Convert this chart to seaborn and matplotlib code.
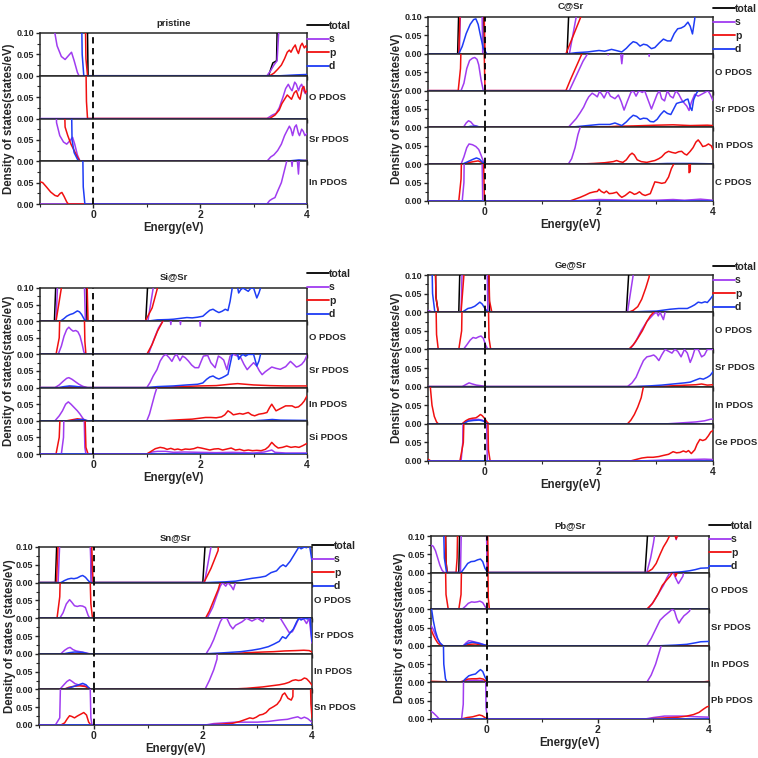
import matplotlib
matplotlib.use("Agg")
import matplotlib.pyplot as plt
from matplotlib.lines import Line2D
import seaborn as sns

# ---- data: (energy eV, DOS states/eV); 0.3 / 0.12 = off scale ----

pristine_total = dict(
    total=[(-1, 0.3), (-0.13, 0.3), (-0.1, 0), (3.28, 0), (3.36, 0.03), (3.43, 0.035), (3.47, 0.3), (4, 0.3)],
    s=[(-1, 0.3), (-0.75, 0.12), (-0.68, 0.07), (-0.6, 0.045), (-0.53, 0.038), (-0.46, 0.048), (-0.41, 0.055),
       (-0.36, 0.035), (-0.3, 0.008), (-0.27, 0), (3.25, 0), (3.32, 0.012), (3.38, 0.025), (3.44, 0.035),
       (3.47, 0.1), (3.5, 0.3), (4, 0.3)],
    p=[(-1, 0.3), (-0.17, 0.3), (-0.14, 0.04), (-0.11, 0), (3.3, 0), (3.38, 0.006), (3.45, 0.015), (3.52, 0.025),
       (3.58, 0.04), (3.63, 0.055), (3.67, 0.06), (3.7, 0.055), (3.74, 0.065), (3.78, 0.072), (3.81, 0.06),
       (3.84, 0.052), (3.88, 0.07), (3.91, 0.076), (3.95, 0.065), (3.98, 0.07), (4, 0.066)],
    d=[(-1, 0.3), (-0.24, 0.3), (-0.21, 0.05), (-0.18, 0), (3.5, 0), (3.8, 0.002), (4, 0.003)],
)
pristine_O = dict(
    s=[(-1, 0), (3.25, 0), (3.35, 0.008), (3.42, 0.012), (3.48, 0.025), (3.55, 0.05), (3.6, 0.07), (3.65, 0.08),
       (3.69, 0.07), (3.72, 0.065), (3.77, 0.085), (3.8, 0.08), (3.84, 0.065), (3.87, 0.075), (3.9, 0.08),
       (3.94, 0.065), (3.97, 0.058), (4, 0.065)],
    p=[(-1, 0.3), (-0.16, 0.3), (-0.13, 0.04), (-0.11, 0), (3.3, 0), (3.4, 0.008), (3.48, 0.02), (3.53, 0.035),
       (3.58, 0.045), (3.63, 0.055), (3.67, 0.05), (3.71, 0.045), (3.76, 0.06), (3.8, 0.065), (3.84, 0.05),
       (3.87, 0.045), (3.91, 0.07), (3.94, 0.075), (3.97, 0.06), (4, 0.065)],
    d=[(-1, 0), (4, 0)],
)
pristine_Sr = dict(
    s=[(-1, 0.3), (-0.74, 0.3), (-0.69, 0.09), (-0.63, 0.06), (-0.56, 0.045), (-0.5, 0.04), (-0.44, 0.048),
       (-0.39, 0.056), (-0.35, 0.04), (-0.3, 0.015), (-0.25, 0), (3.25, 0), (3.32, 0.01), (3.38, 0.015),
       (3.45, 0.025), (3.52, 0.04), (3.58, 0.06), (3.62, 0.07), (3.67, 0.082), (3.7, 0.075), (3.73, 0.06),
       (3.77, 0.08), (3.8, 0.085), (3.84, 0.065), (3.86, 0.06), (3.9, 0.075), (3.93, 0.07), (3.96, 0.06),
       (4, 0.065)],
    p=[(-1, 0.3), (-0.58, 0.3), (-0.53, 0.08), (-0.48, 0.06), (-0.42, 0.04), (-0.36, 0.025), (-0.3, 0.01),
       (-0.25, 0), (3.5, 0), (4, 0.002)],
    d=[(-1, 0.3), (-0.43, 0.3), (-0.4, 0.05), (-0.36, 0.02), (-0.3, 0.005), (-0.27, 0), (3.6, 0), (3.85, 0.003),
       (3.95, 0.002), (4, 0.002)],
)
pristine_In = dict(
    s=[(-1, 0), (3.25, 0), (3.3, 0.008), (3.35, 0.012), (3.4, 0.015), (3.45, 0.03), (3.52, 0.05), (3.58, 0.08),
       (3.62, 0.1), (3.66, 0.13), (3.7, 0.11), (3.72, 0.088), (3.75, 0.13), (3.8, 0.13), (3.84, 0.07),
       (3.87, 0.13), (4, 0.13)],
    p=[(-1, 0.052), (-0.95, 0.05), (-0.88, 0.04), (-0.8, 0.028), (-0.72, 0.02), (-0.67, 0.018), (-0.62, 0.025),
       (-0.59, 0.027), (-0.55, 0.018), (-0.5, 0.005), (-0.47, 0), (4, 0)],
    d=[(-1, 0.3), (-0.22, 0.3), (-0.19, 0.04), (-0.16, 0), (4, 0)],
)

c_total = dict(
    total=[(-1, 0), (-0.48, 0), (-0.43, 0.3), (-0.04, 0.3), (-0.01, 0), (1.44, 0), (1.52, 0.3), (4, 0.3)],
    s=[(-1, 0), (-0.45, 0), (-0.4, 0.3), (-0.07, 0.3), (-0.04, 0), (1.48, 0), (1.6, 0.1), (1.65, 0.3), (4, 0.3)],
    p=[(-1, 0), (-0.46, 0), (-0.4, 0.3), (-0.04, 0.3), (0, 0), (1.42, 0), (1.55, 0.05), (1.68, 0.1),
       (1.72, 0.3), (4, 0.3)],
    d=[(-1, 0), (-0.46, 0), (-0.4, 0.02), (-0.33, 0.055), (-0.26, 0.08), (-0.2, 0.093), (-0.16, 0.095),
       (-0.12, 0.08), (-0.08, 0.05), (-0.03, 0.015), (0.03, 0), (1.45, 0), (1.6, 0.003), (1.8, 0.005),
       (2.0, 0.009), (2.1, 0.007), (2.22, 0.012), (2.3, 0.009), (2.4, 0.005), (2.48, 0.015), (2.54, 0.025),
       (2.6, 0.033), (2.66, 0.03), (2.72, 0.021), (2.78, 0.026), (2.84, 0.024), (2.92, 0.014), (2.98, 0.017),
       (3.06, 0.03), (3.13, 0.04), (3.2, 0.035), (3.26, 0.035), (3.32, 0.055), (3.38, 0.068), (3.44, 0.07),
       (3.5, 0.075), (3.56, 0.086), (3.6, 0.075), (3.64, 0.054), (3.68, 0.095), (3.71, 0.3), (4, 0.3)],
)
c_O = dict(
    s=[(-1, 0), (-0.42, 0), (-0.37, 0.02), (-0.32, 0.06), (-0.27, 0.082), (-0.22, 0.088), (-0.18, 0.09),
       (-0.14, 0.085), (-0.11, 0.07), (-0.07, 0.03), (-0.03, 0), (1.48, 0), (1.6, 0.04), (1.72, 0.08),
       (1.8, 0.1), (1.85, 0.13), (2.12, 0.13), (2.16, 0.097), (2.2, 0.13), (2.36, 0.13), (2.4, 0.073),
       (2.44, 0.13), (2.85, 0.13), (2.88, 0.093), (2.91, 0.13), (4, 0.13)],
    p=[(-1, 0), (-0.47, 0), (-0.43, 0.06), (-0.39, 0.3), (-0.04, 0.3), (0, 0), (1.42, 0), (1.5, 0.03),
       (1.6, 0.065), (1.7, 0.1), (1.75, 0.3), (4, 0.3)],
    d=[(-1, 0), (4, 0)],
)
c_Sr = dict(
    s=[(-1, 0), (-0.38, 0), (-0.33, 0.012), (-0.29, 0.018), (-0.25, 0.015), (-0.2, 0.006), (-0.12, 0.002),
       (-0.05, 0), (1.46, 0), (1.53, 0.012), (1.6, 0.024), (1.67, 0.04), (1.73, 0.055), (1.78, 0.072),
       (1.82, 0.083), (1.88, 0.093), (1.93, 0.088), (1.97, 0.083), (2.01, 0.098), (2.05, 0.09), (2.09, 0.08),
       (2.15, 0.1), (2.2, 0.085), (2.28, 0.078), (2.34, 0.088), (2.39, 0.07), (2.44, 0.047), (2.5, 0.072),
       (2.56, 0.095), (2.6, 0.1), (2.65, 0.085), (2.7, 0.1), (2.76, 0.095), (2.8, 0.1), (2.86, 0.075),
       (2.92, 0.05), (2.97, 0.07), (3.02, 0.09), (3.06, 0.1), (3.1, 0.078), (3.15, 0.072), (3.2, 0.1),
       (3.25, 0.085), (3.3, 0.08), (3.35, 0.1), (3.4, 0.09), (3.45, 0.075), (3.5, 0.065), (3.54, 0.058),
       (3.58, 0.046), (3.62, 0.068), (3.68, 0.09), (3.74, 0.085), (3.8, 0.09), (3.86, 0.095), (3.91, 0.1),
       (3.95, 0.09), (4, 0.073)],
    d=[(-1, 0), (-0.35, 0), (-0.25, 0.003), (-0.15, 0.003), (-0.05, 0), (1.46, 0), (1.6, 0.002), (1.8, 0.005),
       (2.0, 0.008), (2.19, 0.008), (2.28, 0.012), (2.4, 0.005), (2.48, 0.015), (2.54, 0.025), (2.6, 0.033),
       (2.66, 0.03), (2.72, 0.022), (2.78, 0.025), (2.84, 0.024), (2.9, 0.016), (2.96, 0.015), (3.02, 0.022),
       (3.08, 0.035), (3.14, 0.045), (3.2, 0.038), (3.26, 0.035), (3.31, 0.05), (3.36, 0.065), (3.42, 0.068),
       (3.48, 0.07), (3.52, 0.075), (3.56, 0.077), (3.6, 0.055), (3.63, 0.046), (3.66, 0.075), (3.7, 0.09),
       (3.74, 0.1), (3.8, 0.11), (3.85, 0.1), (3.9, 0.11), (4, 0.12)],
    p=[(-1, 0), (2.0, 0), (2.3, 0.003), (2.6, 0.004), (3.0, 0.006), (3.3, 0.007), (3.6, 0.005), (3.9, 0.006),
       (4, 0.005)],
)
c_In = dict(
    s=[(-1, 0), (-0.42, 0), (-0.37, 0.02), (-0.32, 0.045), (-0.28, 0.055), (-0.22, 0.053), (-0.16, 0.048),
       (-0.11, 0.04), (-0.07, 0.025), (-0.03, 0.008), (0.01, 0), (1.46, 0), (1.52, 0.015), (1.58, 0.045),
       (1.63, 0.08), (1.67, 0.1), (1.7, 0.3), (4, 0.3)],
    p=[(-1, 0), (-0.38, 0), (-0.3, 0.004), (-0.2, 0.007), (-0.12, 0.009), (-0.06, 0.005), (0, 0), (1.6, 0),
       (1.9, 0.002), (2.1, 0.004), (2.25, 0.007), (2.31, 0.01), (2.36, 0.007), (2.42, 0.005), (2.48, 0.012),
       (2.54, 0.025), (2.58, 0.03), (2.62, 0.025), (2.67, 0.012), (2.74, 0.007), (2.84, 0.005), (2.92, 0.008),
       (2.98, 0.01), (3.05, 0.015), (3.1, 0.02), (3.16, 0.03), (3.22, 0.035), (3.28, 0.032), (3.34, 0.03),
       (3.4, 0.034), (3.45, 0.035), (3.5, 0.028), (3.54, 0.025), (3.6, 0.035), (3.65, 0.045), (3.7, 0.06),
       (3.74, 0.066), (3.78, 0.058), (3.82, 0.048), (3.87, 0.05), (3.92, 0.055), (3.97, 0.05), (4, 0.04)],
    d=[(-1, 0), (-0.4, 0), (-0.3, 0.007), (-0.2, 0.014), (-0.15, 0.017), (-0.1, 0.014), (-0.05, 0.006),
       (0.02, 0), (2.8, 0), (3.2, 0.002), (3.6, 0.002), (4, 0.001)],
)
c_C = dict(
    s=[(-1, 0), (-0.4, 0), (-0.37, 0.05), (-0.35, 0.3), (-0.07, 0.3), (-0.04, 0), (1.5, 0), (1.8, 0.002),
       (2.0, 0.004), (2.3, 0.003), (2.6, 0.002), (3.0, 0.002), (3.3, 0.004), (3.5, 0.002), (3.78, 0.005),
       (4, 0.002)],
    p=[(-1, 0), (-0.46, 0), (-0.42, 0.06), (-0.39, 0.3), (-0.05, 0.3), (-0.01, 0), (1.49, 0), (1.58, 0.005),
       (1.67, 0.01), (1.76, 0.016), (1.84, 0.022), (1.92, 0.025), (1.97, 0.026), (2.0, 0.032), (2.04, 0.026),
       (2.09, 0.022), (2.13, 0.027), (2.18, 0.02), (2.24, 0.021), (2.31, 0.024), (2.36, 0.015), (2.4, 0.01),
       (2.46, 0.015), (2.5, 0.02), (2.54, 0.025), (2.58, 0.022), (2.62, 0.018), (2.66, 0.02), (2.71, 0.025),
       (2.76, 0.018), (2.81, 0.015), (2.9, 0.02), (2.98, 0.052), (3.05, 0.05), (3.1, 0.048), (3.16, 0.05),
       (3.22, 0.065), (3.27, 0.088), (3.31, 0.1), (3.35, 0.3), (3.55, 0.3), (3.58, 0.077), (3.6, 0.08),
       (3.63, 0.3), (4, 0.3)],
    d=[(-1, 0), (4, 0)],
)

si_total = dict(
    total=[(-1, 0), (-0.73, 0), (-0.66, 0.3), (-0.15, 0.3), (-0.12, 0), (0.98, 0), (1.08, 0.3), (4, 0.3)],
    s=[(-1, 0), (-0.7, 0), (-0.62, 0.3), (-0.2, 0.3), (-0.15, 0), (1.02, 0), (1.12, 0.1), (1.15, 0.3), (4, 0.3)],
    p=[(-1, 0), (-0.7, 0), (-0.6, 0.1), (-0.58, 0.3), (-0.15, 0.3), (-0.1, 0), (0.97, 0), (1.1, 0.04),
       (1.2, 0.1), (1.24, 0.3), (4, 0.3)],
    d=[(-1, 0), (-0.62, 0), (-0.55, 0.008), (-0.5, 0.015), (-0.44, 0.02), (-0.38, 0.023), (-0.33, 0.028),
       (-0.3, 0.031), (-0.26, 0.028), (-0.22, 0.02), (-0.17, 0.005), (-0.12, 0), (1.0, 0), (1.2, 0.004),
       (1.4, 0.005), (1.5, 0.006), (1.6, 0.008), (1.75, 0.011), (1.85, 0.01), (1.95, 0.012), (2.05, 0.015),
       (2.12, 0.025), (2.18, 0.033), (2.24, 0.036), (2.3, 0.03), (2.35, 0.026), (2.41, 0.03), (2.47, 0.036),
       (2.52, 0.032), (2.56, 0.06), (2.6, 0.1), (2.63, 0.12), (2.68, 0.12), (2.72, 0.085), (2.76, 0.095),
       (2.8, 0.1), (2.85, 0.095), (2.9, 0.09), (2.95, 0.1), (3.0, 0.1), (3.06, 0.07), (3.1, 0.085),
       (3.13, 0.1), (3.16, 0.3), (4, 0.3)],
)
si_O = dict(
    s=[(-1, 0), (-0.66, 0), (-0.6, 0.025), (-0.55, 0.055), (-0.5, 0.075), (-0.46, 0.082), (-0.42, 0.075),
       (-0.38, 0.07), (-0.33, 0.072), (-0.29, 0.068), (-0.25, 0.055), (-0.21, 0.03), (-0.18, 0.008),
       (-0.15, 0), (1.03, 0), (1.12, 0.04), (1.22, 0.08), (1.3, 0.1), (1.35, 0.13), (1.42, 0.13),
       (1.45, 0.09), (1.48, 0.13), (1.6, 0.13), (1.63, 0.09), (1.66, 0.13), (1.98, 0.13), (2.0, 0.085),
       (2.02, 0.13), (4, 0.13)],
    p=[(-1, 0), (-0.7, 0), (-0.64, 0.05), (-0.6, 0.3), (-0.19, 0.3), (-0.16, 0.04), (-0.14, 0), (1.0, 0),
       (1.1, 0.03), (1.2, 0.07), (1.3, 0.1), (1.33, 0.3), (4, 0.3)],
    d=[(-1, 0), (4, 0)],
)
si_Sr = dict(
    s=[(-1, 0), (-0.72, 0), (-0.64, 0.008), (-0.56, 0.02), (-0.5, 0.028), (-0.46, 0.03), (-0.4, 0.025),
       (-0.34, 0.018), (-0.27, 0.01), (-0.2, 0.004), (-0.12, 0), (1.0, 0), (1.06, 0.015), (1.12, 0.035),
       (1.19, 0.054), (1.25, 0.08), (1.31, 0.095), (1.36, 0.1), (1.42, 0.09), (1.47, 0.079), (1.52, 0.095),
       (1.56, 0.1), (1.62, 0.081), (1.67, 0.095), (1.72, 0.09), (1.78, 0.08), (1.84, 0.068), (1.9, 0.06),
       (1.97, 0.06), (2.02, 0.08), (2.06, 0.095), (2.14, 0.097), (2.2, 0.075), (2.28, 0.06), (2.34, 0.095),
       (2.39, 0.09), (2.44, 0.083), (2.5, 0.054), (2.56, 0.095), (2.62, 0.1), (2.7, 0.095), (2.76, 0.09),
       (2.82, 0.07), (2.88, 0.054), (2.94, 0.065), (3.0, 0.075), (3.06, 0.065), (3.11, 0.05), (3.16, 0.039),
       (3.22, 0.048), (3.28, 0.055), (3.34, 0.062), (3.42, 0.058), (3.5, 0.055), (3.56, 0.06), (3.6, 0.063),
       (3.65, 0.072), (3.69, 0.079), (3.75, 0.07), (3.8, 0.062), (3.84, 0.064), (3.9, 0.07), (3.95, 0.08),
       (4, 0.097)],
    d=[(-1, 0), (-0.65, 0), (-0.55, 0.003), (-0.45, 0.005), (-0.35, 0.004), (-0.2, 0.001), (-0.1, 0), (1.0, 0),
       (1.2, 0.003), (1.5, 0.005), (1.75, 0.008), (1.95, 0.01), (2.05, 0.014), (2.12, 0.025), (2.18, 0.032),
       (2.24, 0.035), (2.3, 0.029), (2.35, 0.026), (2.41, 0.03), (2.47, 0.035), (2.52, 0.04), (2.56, 0.07),
       (2.6, 0.1), (2.63, 0.12), (2.68, 0.12), (2.72, 0.085), (2.76, 0.095), (2.8, 0.1), (2.85, 0.095),
       (2.9, 0.1), (3.0, 0.1), (3.06, 0.065), (3.1, 0.08), (3.13, 0.1), (3.16, 0.3), (4, 0.3)],
    p=[(-1, 0), (-0.6, 0), (-0.45, 0.003), (-0.3, 0.002), (-0.1, 0), (1.2, 0), (1.6, 0.003), (2.0, 0.005),
       (2.3, 0.006), (2.55, 0.01), (2.7, 0.012), (2.85, 0.01), (3.0, 0.008), (3.3, 0.006), (3.6, 0.005),
       (4, 0.005)],
)
si_In = dict(
    s=[(-1, 0), (-0.72, 0), (-0.64, 0.015), (-0.58, 0.03), (-0.52, 0.05), (-0.47, 0.057), (-0.42, 0.05),
       (-0.36, 0.04), (-0.3, 0.03), (-0.25, 0.02), (-0.2, 0.008), (-0.15, 0), (1.0, 0), (1.05, 0.02),
       (1.1, 0.05), (1.15, 0.08), (1.19, 0.1), (1.22, 0.3), (4, 0.3)],
    p=[(-1, 0), (-0.5, 0), (-0.4, 0.003), (-0.3, 0.006), (-0.2, 0.004), (-0.12, 0), (1.3, 0), (1.6, 0.003),
       (1.85, 0.005), (2.0, 0.008), (2.1, 0.01), (2.2, 0.01), (2.3, 0.009), (2.4, 0.012), (2.46, 0.018),
       (2.52, 0.03), (2.57, 0.025), (2.62, 0.018), (2.68, 0.02), (2.74, 0.022), (2.8, 0.02), (2.86, 0.023),
       (2.9, 0.025), (2.96, 0.018), (3.02, 0.015), (3.1, 0.02), (3.18, 0.022), (3.25, 0.025), (3.3, 0.04),
       (3.34, 0.05), (3.38, 0.04), (3.42, 0.03), (3.48, 0.035), (3.54, 0.04), (3.6, 0.045), (3.66, 0.045),
       (3.72, 0.045), (3.78, 0.04), (3.84, 0.042), (3.9, 0.05), (3.95, 0.06), (4, 0.075)],
    d=[(-1, 0), (-0.4, 0), (-0.3, 0.003), (-0.2, 0.004), (-0.1, 0), (3.0, 0), (3.2, 0.002), (3.35, 0.004),
       (3.5, 0.002), (4, 0.001)],
)
si_Si = dict(
    s=[(-1, 0), (-0.6, 0), (-0.56, 0.05), (-0.53, 0.3), (-0.2, 0.3), (-0.16, 0.02), (-0.14, 0), (1.0, 0),
       (1.1, 0.006), (1.2, 0.008), (1.35, 0.008), (1.5, 0.005), (1.7, 0.006), (2.0, 0.005), (2.3, 0.004),
       (2.6, 0.005), (3.0, 0.003), (3.2, 0.006), (3.34, 0.012), (3.4, 0.005), (3.6, 0.003), (4, 0.003)],
    p=[(-1, 0), (-0.7, 0), (-0.64, 0.05), (-0.58, 0.3), (-0.19, 0.3), (-0.14, 0.02), (-0.1, 0), (1.0, 0),
       (1.08, 0.008), (1.16, 0.016), (1.25, 0.02), (1.32, 0.018), (1.38, 0.014), (1.45, 0.017), (1.52, 0.013),
       (1.58, 0.015), (1.65, 0.012), (1.72, 0.015), (1.8, 0.014), (1.88, 0.016), (1.95, 0.02), (2.02, 0.018),
       (2.1, 0.015), (2.18, 0.012), (2.26, 0.015), (2.34, 0.016), (2.42, 0.012), (2.5, 0.015), (2.58, 0.018),
       (2.66, 0.012), (2.74, 0.014), (2.82, 0.01), (2.9, 0.012), (2.98, 0.01), (3.06, 0.011), (3.14, 0.01),
       (3.22, 0.014), (3.28, 0.022), (3.34, 0.035), (3.4, 0.025), (3.46, 0.018), (3.54, 0.02), (3.62, 0.024),
       (3.7, 0.02), (3.78, 0.022), (3.85, 0.02), (3.92, 0.025), (4, 0.032)],
    d=[(-1, 0), (4, 0)],
)

ge_total = dict(
    total=[(-1, 0.3), (-0.89, 0.3), (-0.86, 0.04), (-0.82, 0), (-0.46, 0), (-0.41, 0.3), (0.04, 0.3),
           (0.08, 0), (2.48, 0), (2.6, 0.3), (4, 0.3)],
    s=[(-1, 0.005), (-0.95, 0.002), (-0.9, 0), (-0.42, 0), (-0.37, 0.3), (0.02, 0.3), (0.05, 0), (2.5, 0),
       (2.6, 0.1), (2.63, 0.3), (4, 0.3)],
    p=[(-1, 0.3), (-0.89, 0.3), (-0.86, 0.04), (-0.82, 0), (-0.42, 0), (-0.37, 0.1), (-0.35, 0.3), (0.04, 0.3),
       (0.08, 0.03), (0.12, 0), (2.52, 0), (2.6, 0.005), (2.68, 0.015), (2.75, 0.035), (2.82, 0.065),
       (2.88, 0.095), (2.92, 0.3), (4, 0.3)],
    d=[(-1, 0.3), (-0.95, 0.3), (-0.92, 0.05), (-0.88, 0), (-0.4, 0), (-0.35, 0.005), (-0.3, 0.01),
       (-0.24, 0.012), (-0.18, 0.016), (-0.13, 0.022), (-0.09, 0.027), (-0.05, 0.022), (0, 0.01), (0.05, 0),
       (2.5, 0), (2.8, 0.002), (3.01, 0.003), (3.25, 0.008), (3.4, 0.01), (3.55, 0.01), (3.62, 0.015),
       (3.68, 0.02), (3.74, 0.027), (3.8, 0.025), (3.86, 0.028), (3.9, 0.026), (3.95, 0.035), (4, 0.045)],
)
ge_O = dict(
    s=[(-1, 0), (-0.38, 0), (-0.32, 0.012), (-0.26, 0.025), (-0.21, 0.032), (-0.16, 0.03), (-0.11, 0.034),
       (-0.07, 0.036), (-0.03, 0.03), (0.01, 0.012), (0.05, 0), (2.54, 0), (2.64, 0.02), (2.74, 0.05),
       (2.84, 0.075), (2.9, 0.085), (2.96, 0.095), (3.01, 0.1), (3.04, 0.09), (3.07, 0.1), (3.1, 0.09),
       (3.13, 0.08), (3.16, 0.1), (3.2, 0.3), (4, 0.3)],
    p=[(-1, 0.3), (-0.88, 0.3), (-0.85, 0.04), (-0.82, 0), (-0.46, 0), (-0.41, 0.05), (-0.38, 0.3), (0.04, 0.3),
       (0.07, 0.03), (0.1, 0), (2.52, 0), (2.6, 0.012), (2.68, 0.03), (2.76, 0.05), (2.84, 0.075), (2.9, 0.09),
       (2.96, 0.1), (3.0, 0.3), (4, 0.3)],
    d=[(-1, 0), (4, 0)],
)
ge_Sr = dict(
    s=[(-1, 0), (-0.4, 0), (-0.33, 0.006), (-0.28, 0.01), (-0.22, 0.007), (-0.15, 0.004), (-0.05, 0.002),
       (0.02, 0), (2.5, 0), (2.58, 0.01), (2.65, 0.025), (2.72, 0.05), (2.78, 0.07), (2.84, 0.08), (2.9, 0.082),
       (2.96, 0.085), (3.0, 0.08), (3.05, 0.07), (3.1, 0.085), (3.16, 0.1), (3.22, 0.095), (3.28, 0.09),
       (3.33, 0.1), (3.38, 0.095), (3.44, 0.08), (3.5, 0.1), (3.55, 0.09), (3.6, 0.065), (3.64, 0.08),
       (3.68, 0.1), (3.74, 0.1), (3.8, 0.08), (3.85, 0.085), (3.9, 0.1), (4, 0.1)],
    p=[(-1, 0), (3.0, 0), (3.4, 0.003), (3.7, 0.005), (3.8, 0.007), (3.9, 0.004), (4, 0.005)],
    d=[(-1, 0), (2.6, 0), (2.9, 0.002), (3.1, 0.004), (3.3, 0.007), (3.5, 0.01), (3.6, 0.012), (3.7, 0.018),
       (3.77, 0.022), (3.83, 0.02), (3.9, 0.025), (3.95, 0.03), (4, 0.04)],
)
ge_In = dict(
    s=[(-1, 0), (-0.4, 0), (-0.34, 0.006), (-0.28, 0.01), (-0.2, 0.011), (-0.12, 0.012), (-0.05, 0.01),
       (0.02, 0.004), (0.05, 0), (3.2, 0), (3.5, 0.003), (3.7, 0.005), (3.85, 0.008), (3.95, 0.012),
       (4, 0.013)],
    p=[(-1, 0.3), (-0.96, 0.1), (-0.93, 0.05), (-0.89, 0.02), (-0.85, 0.005), (-0.82, 0), (-0.4, 0),
       (-0.34, 0.008), (-0.28, 0.013), (-0.22, 0.015), (-0.16, 0.016), (-0.12, 0.02), (-0.08, 0.025),
       (-0.05, 0.022), (-0.01, 0.015), (0.04, 0.004), (0.07, 0), (2.5, 0), (2.56, 0.01), (2.62, 0.025),
       (2.68, 0.045), (2.74, 0.07), (2.78, 0.1), (2.8, 0.3), (4, 0.3)],
    d=[(-1, 0), (-0.38, 0), (-0.3, 0.007), (-0.2, 0.009), (-0.1, 0.01), (-0.02, 0.007), (0.03, 0), (4, 0)],
)
ge_Ge = dict(
    s=[(-1, 0), (-0.42, 0), (-0.39, 0.05), (-0.37, 0.3), (0.01, 0.3), (0.04, 0), (2.7, 0), (3.2, 0.003),
       (3.6, 0.004), (3.85, 0.005), (4, 0.004)],
    p=[(-1, 0.005), (-0.95, 0), (-0.44, 0), (-0.38, 0.05), (-0.34, 0.3), (0.03, 0.3), (0.06, 0.03), (0.09, 0),
       (2.55, 0), (2.65, 0.004), (2.75, 0.008), (2.85, 0.01), (2.95, 0.01), (3.05, 0.012), (3.13, 0.015),
       (3.22, 0.018), (3.3, 0.025), (3.36, 0.022), (3.42, 0.023), (3.48, 0.027), (3.53, 0.024), (3.57, 0.028),
       (3.62, 0.02), (3.68, 0.03), (3.72, 0.045), (3.77, 0.058), (3.82, 0.055), (3.87, 0.058), (3.92, 0.068),
       (3.96, 0.078), (4, 0.082)],
    d=[(-1, 0), (4, 0)],
)

sn_total = dict(
    total=[(-1, 0), (-0.7, 0), (-0.63, 0.3), (-0.08, 0.3), (-0.04, 0), (2.0, 0), (2.12, 0.3), (4, 0.3)],
    s=[(-1, 0), (-0.65, 0), (-0.57, 0.3), (-0.1, 0.3), (-0.04, 0), (2.03, 0), (2.15, 0.1), (2.2, 0.3), (4, 0.3)],
    p=[(-1, 0), (-0.68, 0), (-0.6, 0.3), (-0.08, 0.3), (-0.01, 0), (2.02, 0), (2.15, 0.04), (2.28, 0.09),
       (2.35, 0.3), (4, 0.3)],
    d=[(-1, 0), (-0.6, 0), (-0.53, 0.006), (-0.47, 0.01), (-0.41, 0.012), (-0.36, 0.011), (-0.3, 0.013),
       (-0.24, 0.018), (-0.2, 0.02), (-0.15, 0.015), (-0.1, 0.006), (-0.06, 0), (2.05, 0), (2.4, 0.002),
       (2.6, 0.004), (2.75, 0.008), (2.9, 0.012), (3.05, 0.015), (3.15, 0.018), (3.25, 0.028), (3.35, 0.033),
       (3.42, 0.045), (3.47, 0.05), (3.52, 0.045), (3.6, 0.06), (3.66, 0.075), (3.72, 0.09), (3.76, 0.1),
       (3.8, 0.095), (3.86, 0.1), (3.9, 0.098), (3.94, 0.12), (3.98, 0.08), (4, 0.06)],
)
sn_O = dict(
    s=[(-1, 0), (-0.62, 0), (-0.56, 0.015), (-0.5, 0.04), (-0.44, 0.052), (-0.4, 0.045), (-0.35, 0.035),
       (-0.3, 0.033), (-0.25, 0.035), (-0.2, 0.034), (-0.15, 0.03), (-0.1, 0.008), (-0.07, 0), (2.08, 0),
       (2.18, 0.03), (2.26, 0.065), (2.32, 0.09), (2.36, 0.1), (2.42, 0.09), (2.46, 0.1), (2.52, 0.09),
       (2.56, 0.08), (2.6, 0.1), (2.64, 0.3), (4, 0.3)],
    p=[(-1, 0), (-0.67, 0), (-0.62, 0.06), (-0.58, 0.3), (-0.1, 0.3), (-0.05, 0.04), (-0.02, 0), (2.05, 0),
       (2.12, 0.02), (2.2, 0.05), (2.28, 0.08), (2.32, 0.1), (2.36, 0.3), (4, 0.3)],
    d=[(-1, 0), (4, 0)],
)
sn_Sr = dict(
    s=[(-1, 0), (-0.6, 0), (-0.53, 0.01), (-0.47, 0.016), (-0.43, 0.018), (-0.38, 0.012), (-0.32, 0.008),
       (-0.25, 0.006), (-0.15, 0.003), (-0.07, 0), (2.06, 0), (2.14, 0.02), (2.2, 0.04), (2.26, 0.065),
       (2.32, 0.09), (2.36, 0.1), (2.44, 0.1), (2.5, 0.08), (2.55, 0.07), (2.6, 0.08), (2.66, 0.085),
       (2.72, 0.09), (2.8, 0.1), (2.9, 0.092), (3.0, 0.1), (3.1, 0.09), (3.2, 0.12), (3.38, 0.12), (3.42, 0.1),
       (3.46, 0.09), (3.52, 0.075), (3.58, 0.06), (3.64, 0.062), (3.7, 0.08), (3.76, 0.1), (3.84, 0.1),
       (3.9, 0.085), (3.95, 0.1), (4, 0.03)],
    p=[(-1, 0), (2.5, 0), (2.8, 0.003), (3.1, 0.005), (3.3, 0.006), (3.5, 0.008), (3.7, 0.009), (3.85, 0.01),
       (3.95, 0.009), (4, 0.005)],
    d=[(-1, 0), (-0.55, 0), (-0.45, 0.003), (-0.35, 0.005), (-0.2, 0.004), (-0.1, 0), (2.05, 0), (2.4, 0.003),
       (2.7, 0.006), (2.9, 0.01), (3.05, 0.014), (3.2, 0.02), (3.3, 0.027), (3.4, 0.035), (3.46, 0.048),
       (3.52, 0.043), (3.58, 0.055), (3.66, 0.07), (3.72, 0.09), (3.76, 0.1), (3.8, 0.095), (3.86, 0.1),
       (3.92, 0.098), (3.96, 0.12), (3.98, 0.07), (4, 0.035)],
)
sn_In = dict(
    s=[(-1, 0), (-0.62, 0), (-0.55, 0.012), (-0.49, 0.022), (-0.44, 0.027), (-0.39, 0.022), (-0.34, 0.016),
       (-0.28, 0.013), (-0.22, 0.012), (-0.16, 0.01), (-0.1, 0.004), (-0.06, 0), (2.04, 0), (2.12, 0.025),
       (2.2, 0.055), (2.26, 0.085), (2.3, 0.3), (4, 0.3)],
    p=[(-1, 0), (-0.55, 0), (-0.45, 0.006), (-0.35, 0.009), (-0.25, 0.01), (-0.15, 0.008), (-0.08, 0.003),
       (-0.04, 0), (2.4, 0), (2.8, 0.003), (3.1, 0.007), (3.25, 0.01), (3.4, 0.013), (3.5, 0.016), (3.58, 0.02),
       (3.64, 0.025), (3.7, 0.027), (3.75, 0.025), (3.8, 0.026), (3.86, 0.032), (3.9, 0.03), (3.95, 0.022),
       (4, 0.012)],
    d=[(-1, 0), (-0.55, 0), (-0.45, 0.004), (-0.35, 0.009), (-0.27, 0.013), (-0.2, 0.017), (-0.14, 0.013),
       (-0.09, 0.005), (-0.05, 0), (4, 0)],
)
sn_Sn = dict(
    s=[(-1, 0), (-0.7, 0), (-0.62, 0.02), (-0.58, 0.3), (-0.09, 0.3), (-0.05, 0.02), (-0.03, 0), (2.05, 0),
       (2.2, 0.004), (2.4, 0.006), (2.6, 0.008), (2.8, 0.008), (3.0, 0.008), (3.2, 0.01), (3.4, 0.014),
       (3.55, 0.016), (3.65, 0.02), (3.74, 0.023), (3.8, 0.018), (3.86, 0.022), (3.92, 0.018), (4, 0.008)],
    p=[(-1, 0), (-0.6, 0), (-0.53, 0.006), (-0.48, 0.018), (-0.44, 0.026), (-0.4, 0.024), (-0.35, 0.02),
       (-0.3, 0.025), (-0.24, 0.03), (-0.18, 0.035), (-0.13, 0.028), (-0.09, 0.008), (-0.05, 0), (2.05, 0),
       (2.3, 0.002), (2.55, 0.005), (2.68, 0.01), (2.79, 0.016), (2.86, 0.02), (2.92, 0.018), (2.98, 0.022),
       (3.04, 0.028), (3.1, 0.03), (3.16, 0.035), (3.22, 0.045), (3.3, 0.052), (3.36, 0.058), (3.42, 0.07),
       (3.46, 0.085), (3.5, 0.09), (3.56, 0.075), (3.62, 0.07), (3.65, 0.08), (3.67, 0.3), (3.95, 0.3),
       (3.98, 0.06), (4, 0.02)],
    d=[(-1, 0), (4, 0)],
)

pb_total = dict(
    total=[(-1, 0.3), (-0.76, 0.3), (-0.73, 0.03), (-0.71, 0), (-0.5, 0), (-0.46, 0.3), (-0.01, 0.3),
           (0.02, 0), (2.85, 0), (2.98, 0.3), (4, 0.3)],
    s=[(-1, 0.075), (-0.96, 0.072), (-0.92, 0.06), (-0.88, 0.04), (-0.84, 0.02), (-0.8, 0.006), (-0.76, 0),
       (-0.47, 0), (-0.43, 0.3), (-0.02, 0.3), (0.01, 0), (2.88, 0), (2.95, 0.04), (3.0, 0.08), (3.04, 0.12),
       (3.38, 0.12), (3.41, 0.09), (3.44, 0.12), (4, 0.12)],
    p=[(-1, 0.3), (-0.76, 0.3), (-0.73, 0.03), (-0.71, 0), (-0.55, 0), (-0.53, 0.04), (-0.5, 0.3), (0.0, 0.3),
       (0.03, 0), (2.88, 0), (2.98, 0.01), (3.05, 0.025), (3.12, 0.05), (3.18, 0.07), (3.24, 0.085),
       (3.29, 0.1), (3.35, 0.12), (3.39, 0.1), (3.41, 0.092), (3.43, 0.1), (3.46, 0.3), (4, 0.3)],
    d=[(-1, 0.3), (-0.8, 0.3), (-0.76, 0.04), (-0.72, 0), (-0.46, 0), (-0.4, 0.012), (-0.34, 0.025),
       (-0.28, 0.03), (-0.22, 0.031), (-0.16, 0.035), (-0.11, 0.037), (-0.07, 0.03), (-0.03, 0.012), (0.02, 0),
       (3.3, 0), (3.5, 0.002), (3.65, 0.005), (3.75, 0.008), (3.85, 0.012), (4, 0.013)],
)
pb_O = dict(
    s=[(-1, 0), (-0.44, 0), (-0.38, 0.008), (-0.33, 0.016), (-0.27, 0.02), (-0.22, 0.019), (-0.17, 0.02),
       (-0.12, 0.022), (-0.07, 0.018), (-0.03, 0.008), (0.01, 0), (2.9, 0), (3.0, 0.02), (3.1, 0.045),
       (3.18, 0.065), (3.24, 0.085), (3.3, 0.1), (3.36, 0.1), (3.4, 0.085), (3.45, 0.07), (3.49, 0.08),
       (3.53, 0.09), (3.57, 0.12), (4, 0.12)],
    p=[(-1, 0.3), (-0.76, 0.3), (-0.73, 0.04), (-0.69, 0), (-0.5, 0), (-0.46, 0.04), (-0.43, 0.3), (0.01, 0.3),
       (0.03, 0.03), (0.05, 0), (2.88, 0), (2.98, 0.015), (3.08, 0.04), (3.16, 0.065), (3.24, 0.08),
       (3.3, 0.09), (3.34, 0.1), (3.38, 0.12), (3.4, 0.09), (3.43, 0.1), (3.46, 0.12), (4, 0.12)],
    d=[(-1, 0), (4, 0)],
)
pb_Sr = dict(
    s=[(-1, 0.055), (-0.96, 0.045), (-0.92, 0.03), (-0.88, 0.018), (-0.84, 0.008), (-0.8, 0), (-0.42, 0),
       (-0.37, 0.008), (-0.32, 0.014), (-0.28, 0.013), (-0.2, 0.01), (-0.12, 0.007), (-0.05, 0.003), (0.02, 0),
       (2.88, 0), (2.96, 0.02), (3.04, 0.045), (3.12, 0.07), (3.2, 0.082), (3.28, 0.092), (3.34, 0.1),
       (3.38, 0.095), (3.42, 0.075), (3.46, 0.062), (3.5, 0.072), (3.55, 0.082), (3.6, 0.088), (3.65, 0.095),
       (3.7, 0.12), (4, 0.12)],
    p=[(-1, 0.045), (-0.96, 0.03), (-0.92, 0.018), (-0.88, 0.008), (-0.82, 0), (-0.4, 0), (-0.32, 0.004),
       (-0.2, 0.005), (-0.1, 0.003), (0, 0), (4, 0)],
    d=[(-1, 0.3), (-0.99, 0.1), (-0.96, 0.07), (-0.92, 0.04), (-0.88, 0.02), (-0.84, 0.008), (-0.78, 0),
       (-0.42, 0), (-0.34, 0.007), (-0.25, 0.01), (-0.15, 0.007), (-0.05, 0.003), (0.02, 0), (3.1, 0),
       (3.4, 0.002), (3.6, 0.004), (3.75, 0.008), (3.85, 0.011), (4, 0.012)],
)
pb_In = dict(
    s=[(-1, 0), (-0.44, 0), (-0.36, 0.005), (-0.2, 0.006), (-0.08, 0.005), (0, 0), (2.88, 0), (2.96, 0.02),
       (3.04, 0.05), (3.1, 0.08), (3.14, 0.1), (3.18, 0.3), (4, 0.3)],
    p=[(-1, 0.003), (-0.8, 0.002), (-0.5, 0), (-0.42, 0.004), (-0.34, 0.009), (-0.26, 0.01), (-0.18, 0.01),
       (-0.12, 0.011), (-0.06, 0.009), (-0.01, 0.003), (0.03, 0), (3.8, 0), (4, 0.003)],
    d=[(-1, 0.3), (-0.8, 0.3), (-0.77, 0.05), (-0.74, 0.01), (-0.71, 0), (-0.44, 0), (-0.38, 0.01),
       (-0.32, 0.018), (-0.26, 0.021), (-0.2, 0.023), (-0.15, 0.03), (-0.11, 0.035), (-0.07, 0.03),
       (-0.03, 0.015), (0.02, 0), (4, 0)],
)
pb_Pb = dict(
    s=[(-1, 0.021), (-0.96, 0.017), (-0.9, 0.008), (-0.85, 0), (-0.45, 0), (-0.42, 0.04), (-0.4, 0.3),
       (-0.03, 0.3), (-0.01, 0.03), (0.02, 0), (2.85, 0), (3.0, 0.004), (3.2, 0.008), (3.5, 0.008),
       (3.8, 0.006), (4, 0.005)],
    p=[(-1, 0), (-0.45, 0), (-0.35, 0.004), (-0.25, 0.006), (-0.18, 0.009), (-0.13, 0.011), (-0.08, 0.009),
       (-0.03, 0.004), (0.02, 0), (2.85, 0), (3.2, 0.003), (3.45, 0.005), (3.6, 0.008), (3.72, 0.012),
       (3.82, 0.018), (3.9, 0.027), (3.96, 0.033), (4, 0.035)],
    d=[(-1, 0), (4, 0)],
)

ORBITALS = ["total", "s", "p", "d"]
COLORS = {"total": "black", "s": "#A03CF0", "p": "#F01010", "d": "#1E3CF5"}

YLAB = "Density of states(states/eV)"

# layout in pixels of the 758 px canvas: box = (left, top, right, bottom)
PANELS = [
    dict(title="pristine", box=(40, 33, 307, 204), title_y=24, legend_y=21, ylab_x=9, ylabel=YLAB,
         rows=[(None, pristine_total), ("O PDOS", pristine_O), ("Sr PDOS", pristine_Sr), ("In PDOS", pristine_In)]),
    dict(title="C@Sr", box=(428, 17, 713, 201), title_y=6, legend_y=4, ylab_x=397, ylabel=YLAB,
         rows=[(None, c_total), ("O PDOS", c_O), ("Sr PDOS", c_Sr), ("In PDOS", c_In), ("C PDOS", c_C)]),
    dict(title="Si@Sr", box=(40, 288, 307, 454), title_y=277, legend_y=269, ylab_x=9, ylabel=YLAB,
         rows=[(None, si_total), ("O PDOS", si_O), ("Sr PDOS", si_Sr), ("In PDOS", si_In), ("Si PDOS", si_Si)]),
    dict(title="Ge@Sr", box=(428, 275, 713, 461), title_y=265, legend_y=262, ylab_x=397, ylabel=YLAB,
         rows=[(None, ge_total), ("O PDOS", ge_O), ("Sr PDOS", ge_Sr), ("In PDOS", ge_In), ("Ge PDOS", ge_Ge)]),
    dict(title="Sn@Sr", box=(39, 547, 312, 725), title_y=538, legend_y=541, ylab_x=10,
         ylabel="Density of states (states/eV)",
         rows=[(None, sn_total), ("O PDOS", sn_O), ("Sr PDOS", sn_Sr), ("In PDOS", sn_In), ("Sn PDOS", sn_Sn)]),
    dict(title="Pb@Sr", box=(431, 536, 709, 719), title_y=526, legend_y=521, ylab_x=400, ylabel=YLAB,
         rows=[(None, pb_total), ("O PDOS", pb_O), ("Sr PDOS", pb_Sr), ("In PDOS", pb_In), ("Pb PDOS", pb_Pb)]),
]

sns.set_style("ticks")
plt.rcParams["font.family"] = ["Liberation Sans", "DejaVu Sans"]
plt.rcParams["font.weight"] = "bold"

W = 758.0
fig = plt.figure(figsize=(7.58, 7.58), dpi=100)


def fx(px):
    return px / W


def fy(px):
    return 1 - px / W


for panel in PANELS:
    l, t, r, b = panel["box"]
    n = len(panel["rows"])
    h = (b - t) / n
    for i, (label, curves) in enumerate(panel["rows"]):
        top = t + i * h
        ax = fig.add_axes([fx(l), fy(top + h), (r - l) / W, h / W])
        for orb in ORBITALS:
            if orb not in curves:
                continue
            xs = [pt[0] for pt in curves[orb]]
            ys = [pt[1] for pt in curves[orb]]
            sns.lineplot(x=xs, y=ys, ax=ax, color=COLORS[orb], lw=1.1, sort=False,
                         estimator=None, legend=False, zorder=3)
        ax.axvline(0, color="black", ls=(0, (3.5, 2.5)), lw=1.3, zorder=4)
        ax.set_xlim(-1, 4)
        ax.set_ylim(0, 0.1)
        ax.set_xlabel("")
        ax.set_ylabel("")
        ax.set_xticks([0, 2, 4])
        ax.set_xticks([-1, 1, 3], minor=True)
        ax.set_yticks([0, 0.05, 0.1] if i == 0 else [0, 0.05])
        ax.set_yticks([0.025, 0.075], minor=True)
        ax.yaxis.set_major_formatter("{x:.2f}")
        ax.tick_params(which="major", direction="out", length=3, width=1, labelsize=6.5, pad=1.2)
        ax.tick_params(which="minor", direction="out", length=2, width=0.8)
        ax.tick_params(axis="x", labelsize=7.5)
        if i < n - 1:
            ax.tick_params(labelbottom=False)
        for sp in ax.spines.values():
            sp.set_linewidth(1.1)
        if label:
            ax.text(1.008, 0.5, label, transform=ax.transAxes, ha="left", va="center",
                    fontsize=6.8, fontweight="bold")
        if i == 0:
            handles = [Line2D([], [], color=COLORS[o], lw=1.3) for o in ORBITALS]
            ax.legend(handles, ORBITALS, loc="upper left", bbox_to_anchor=(fx(r), fy(panel["legend_y"])),
                      bbox_transform=fig.transFigure, frameon=False, handlelength=2.1, handletextpad=0.0,
                      borderaxespad=0, borderpad=0, labelspacing=0.33, fontsize=7.5)
    fig.text(fx((l + r) / 2), fy(panel["title_y"]), panel["title"], ha="center", va="center",
             fontsize=6.8, fontweight="bold")
    fig.text(fx(panel["ylab_x"]), fy((t + b) / 2), panel["ylabel"], rotation=90, ha="center",
             va="center", fontsize=8.3, fontweight="bold")
    fig.text(fx((l + r) / 2), fy(b + 24), "Energy(eV)", ha="center", va="center",
             fontsize=8.3, fontweight="bold")

fig.savefig("out.png", dpi=100, facecolor="white")
